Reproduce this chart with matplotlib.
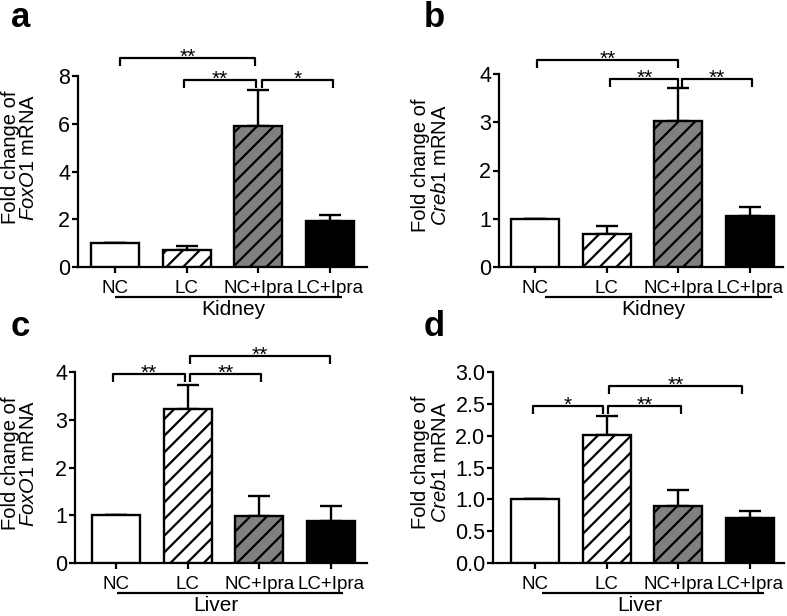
import matplotlib
matplotlib.use("Agg")
import matplotlib.pyplot as plt
import numpy as np

plt.rcParams['font.family'] = ['Liberation Sans', 'DejaVu Sans']
plt.rcParams['mathtext.fontset'] = 'custom'
plt.rcParams['mathtext.rm'] = 'Liberation Sans'
plt.rcParams['mathtext.it'] = 'Liberation Sans:italic'
plt.rcParams['hatch.linewidth'] = 1.6

# ---------------- data ----------------
groups = ["NC", "LC", "NC+Ipra", "LC+Ipra"]
bar_colors = ["white", "white", "#808080", "black"]
bar_hatches = ["", "//", "//", ""]

foxo1_kidney = [1.0, 0.73, 5.9, 1.92]
foxo1_kidney_err = [1.0, 0.88, 7.4, 2.17]
creb1_kidney = [1.0, 0.69, 3.03, 1.05]
creb1_kidney_err = [1.0, 0.84, 3.71, 1.24]
foxo1_liver = [1.0, 3.22, 0.98, 0.89]
foxo1_liver_err = [1.0, 3.73, 1.41, 1.19]
creb1_liver = [1.0, 2.01, 0.89, 0.71]
creb1_liver_err = [1.0, 2.31, 1.14, 0.81]

# brackets: (x_left, x_right, y, label)
brackets_a = [(0.07, 1.95, 8.75, "**"), (0.96, 1.97, 7.85, "**"), (2.05, 3.04, 7.85, "*")]
brackets_b = [(0.03, 1.99, 4.29, "**"), (1.05, 2.0, 3.9, "**"), (2.05, 3.03, 3.9, "**")]
brackets_c = [(-0.04, 0.96, 3.96, "**"), (1.03, 2.03, 3.96, "**"), (1.03, 2.98, 4.33, "**")]
brackets_d = [(-0.03, 0.95, 2.47, "*"), (1.02, 2.04, 2.47, "**"), (1.03, 2.89, 2.78, "**")]

W, H = 787, 616
fig = plt.figure(figsize=(W / 100, H / 100), dpi=100)


def make_panel(left, right, top, bottom, c0, vals, errs, ymax, yticks, yfmt,
               brackets, gene, tissue, line_x, text_x, letter, letter_xy, label_x, label_y):
    step = 71.67
    ax = fig.add_axes([left / W, 1 - bottom / H, (right - left) / W, (bottom - top) / H])
    x = np.arange(len(groups))
    ax.bar(x, vals, width=0.67, color=bar_colors, edgecolor="black", linewidth=1.7, zorder=3)
    for b, h in zip(ax.patches, bar_hatches):
        if h:
            b.set_hatch(h)
    up = np.array(errs) - np.array(vals)
    ax.errorbar(x, vals, yerr=[np.zeros(4), up], fmt="none", ecolor="black",
                elinewidth=1.7, capsize=8, capthick=1.7, zorder=2)
    ax.set_xlim((left - c0) / step, (right - c0) / step)
    ax.set_ylim(0, ymax)
    ax.set_yticks(yticks)
    ax.set_yticklabels([yfmt.format(v) for v in yticks], fontsize=15.5)
    ax.set_xticks(x)
    ax.set_xticklabels(groups, fontsize=13.5)
    for s in ["top", "right"]:
        ax.spines[s].set_visible(False)
    for s in ["left", "bottom"]:
        ax.spines[s].set_linewidth(1.6)
    ax.tick_params(axis="both", width=1.6, length=4.5, pad=1)
    ax.tick_params(axis="x", pad=5)
    pxu = (bottom - top) / ymax
    tip = 8 / pxu
    for x1, x2, y, lab in brackets:
        ax.plot([x1, x1, x2, x2], [y - tip, y, y, y - tip], color="black", lw=1.6,
                clip_on=False, solid_capstyle="butt")
        ax.annotate(lab, ((x1 + x2) / 2, y), xytext=(0, -3.5), textcoords="offset points",
                    ha="center", va="baseline", fontsize=15, annotation_clip=False)
    # group line
    ly = -30 / pxu
    ax.plot(line_x, [ly, ly], color="black", lw=1.6, clip_on=False, solid_capstyle="butt")
    ax.text(text_x, -48 / pxu, tissue, ha="center", va="baseline", fontsize=15, clip_on=False)
    fig.text(letter_xy[0] / W, 1 - letter_xy[1] / H, letter, fontsize=25, fontweight="bold",
             ha="left", va="top")
    fig.text(label_x[0] / W, 1 - label_y / H, "Fold change of", rotation=90,
             ha="center", va="center", fontsize=14.5)
    fig.text(label_x[1] / W, 1 - label_y / H, "$\\mathit{" + gene + "}$ mRNA", rotation=90,
             ha="center", va="center", fontsize=14.5)
    return ax


make_panel(78, 367, 76, 267, 115, foxo1_kidney, foxo1_kidney_err, 8, [0, 2, 4, 6, 8], "{:g}",
           brackets_a, "FoxO1", "Kidney", [0.0, 3.17], 1.65, "a", (11, 1), (11, 29), 157)
make_panel(499, 783, 74, 267, 535, creb1_kidney, creb1_kidney_err, 4, [0, 1, 2, 3, 4], "{:g}",
           brackets_b, "Creb1", "Kidney", [0.14, 3.31], 1.65, "b", (424, 1), (420, 440), 165)
make_panel(75, 367, 372, 563, 116, foxo1_liver, foxo1_liver_err, 4, [0, 1, 2, 3, 4], "{:g}",
           brackets_c, "FoxO1", "Liver", [0.01, 3.17], 1.4, "c", (11, 310), (11, 29), 463)
make_panel(493, 784, 372, 563, 535, creb1_liver, creb1_liver_err, 3,
           [0, 0.5, 1.0, 1.5, 2.0, 2.5, 3.0], "{:.1f}",
           brackets_d, "Creb1", "Liver", [0.1, 3.2], 1.47, "d", (424, 310), (420, 440), 462)

fig.savefig("out.png", dpi=100)
